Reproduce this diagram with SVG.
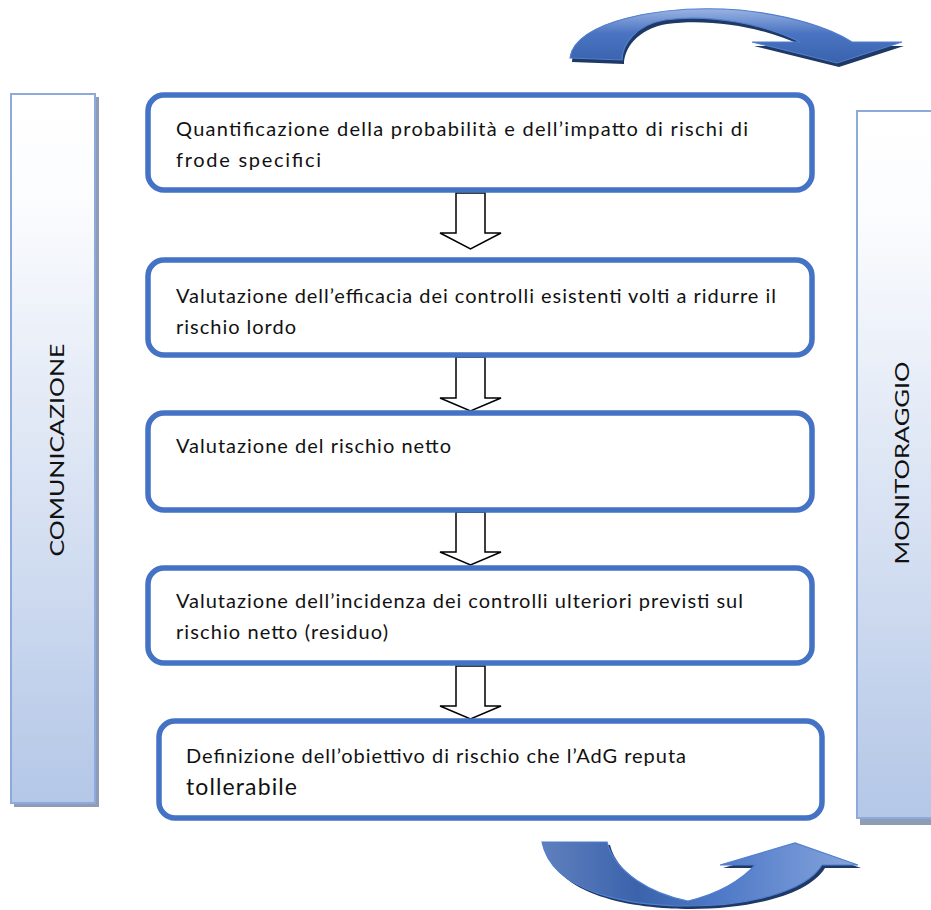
<svg xmlns="http://www.w3.org/2000/svg" width="931" height="910" viewBox="0 0 931 910">
<defs>
<linearGradient id="bar" x1="0" y1="0" x2="0" y2="1">
<stop offset="0" stop-color="#ffffff"/>
<stop offset="0.15" stop-color="#fbfcfe"/>
<stop offset="1" stop-color="#b4c7e7"/>
</linearGradient>
<linearGradient id="curv" x1="0" y1="0" x2="0" y2="1">
<stop offset="0" stop-color="#9ab3e2"/>
<stop offset="0.45" stop-color="#4a74c2"/>
<stop offset="1" stop-color="#3a62ad"/>
</linearGradient>
<linearGradient id="curv2" x1="0" y1="0" x2="1" y2="0">
<stop offset="0" stop-color="#5f80bd"/>
<stop offset="0.3" stop-color="#3b63ac"/>
<stop offset="0.55" stop-color="#4d78c6"/>
<stop offset="1" stop-color="#87a5dd"/>
</linearGradient>
<style>
.box{fill:#ffffff;stroke:#4472c4;stroke-width:5.5}
.bar{fill:url(#bar);stroke:#8eaadc;stroke-width:2}
.shadow{fill:#8f9cb6}
.dn{fill:#ffffff;stroke:#000000;stroke-width:1.5;stroke-linejoin:miter}
.t{font-family:Lato,"Liberation Sans",sans-serif;font-size:20px;fill:#111111}
.vt{font-family:Lato,"Liberation Sans",sans-serif;font-size:20px;fill:#111111}
.cshadow{fill:#1f3864}
.carrow{stroke:#4f7fd0;stroke-width:1.2}
</style>
</defs>

<g id="comunicazione">
<rect class="shadow" x="14" y="97" width="85" height="710"/>
<rect class="bar" x="11" y="94" width="84" height="709"/>
<text class="vt" transform="translate(64,450) rotate(-90)" text-anchor="middle" textLength="213" lengthAdjust="spacingAndGlyphs">COMUNICAZIONE</text>
</g>

<g id="monitoraggio">
<rect class="shadow" x="860" y="115" width="80" height="710"/>
<rect class="bar" x="857" y="111" width="80" height="707"/>
<text class="vt" transform="translate(909,463) rotate(-90)" text-anchor="middle" textLength="203" lengthAdjust="spacingAndGlyphs">MONITORAGGIO</text>
</g>

<g id="ciclo-alto">
<path class="cshadow" transform="translate(2,4)" d="M570,58 C574,22 660,4 740,10 C790,15 830,28 852,42 L902,42 L837,63 L752,42 L800,42 C765,24 710,14 665,20 C635,25 622,45 622,60 Z"/>
<path class="carrow" fill="url(#curv)" d="M570,58 C574,22 660,4 740,10 C790,15 830,28 852,42 L902,42 L837,63 L752,42 L800,42 C765,24 710,14 665,20 C635,25 622,45 622,60 Z"/>
</g>

<g id="ciclo-basso">
<path class="cshadow" transform="translate(3,3)" d="M542,842 L607,842 C615,873 652,894 688,901 C718,894 742,880 755,865 L720,865 L795,843 L858,865 L822,865 C805,893 745,906 688,906 C630,906 552,893 542,842 Z"/>
<path class="carrow" fill="url(#curv2)" d="M542,842 L607,842 C615,873 652,894 688,901 C718,894 742,880 755,865 L720,865 L795,843 L858,865 L822,865 C805,893 745,906 688,906 C630,906 552,893 542,842 Z"/>
</g>

<g id="connettori">
<path class="dn" d="M456,193 L485,193 L485,233 L501,233 L470.5,249 L440,233 L456,233 Z"/>
<path class="dn" d="M456,357 L485,357 L485,398 L501,398 L470.5,411 L440,398 L456,398 Z"/>
<path class="dn" d="M456,512 L485,512 L485,552 L501,552 L470.5,565 L440,552 L456,552 Z"/>
<path class="dn" d="M456,666 L485,666 L485,706 L501,706 L470.5,719 L440,706 L456,706 Z"/>
</g>

<g id="n1">
<rect class="box" x="148" y="95" width="664" height="95" rx="16"/>
<text class="t" x="176" y="136" textLength="572">Quantificazione della probabilità e dell’impatto di rischi di</text>
<text class="t" x="176" y="167" textLength="145">frode specifici</text>
</g>

<g id="n2">
<rect class="box" x="148" y="260" width="664" height="95" rx="16"/>
<text class="t" x="176" y="303" textLength="600">Valutazione dell’efficacia dei controlli esistenti volti a ridurre il</text>
<text class="t" x="176" y="334" textLength="120">rischio lordo</text>
</g>

<g id="n3">
<rect class="box" x="148" y="413" width="664" height="97" rx="16"/>
<text class="t" x="176" y="453" textLength="275">Valutazione del rischio netto</text>
</g>

<g id="n4">
<rect class="box" x="148" y="568" width="664" height="95" rx="16"/>
<text class="t" x="176" y="608" textLength="567">Valutazione dell’incidenza dei controlli ulteriori previsti sul</text>
<text class="t" x="176" y="639" textLength="212">rischio netto (residuo)</text>
</g>

<g id="n5">
<rect class="box" x="159" y="721" width="663" height="97" rx="16"/>
<text class="t" x="186" y="763" textLength="500">Definizione dell’obiettivo di rischio che l’AdG reputa</text>
<text class="t" x="186" y="795" style="font-size:23px" textLength="111">tollerabile</text>
</g>
</svg>
